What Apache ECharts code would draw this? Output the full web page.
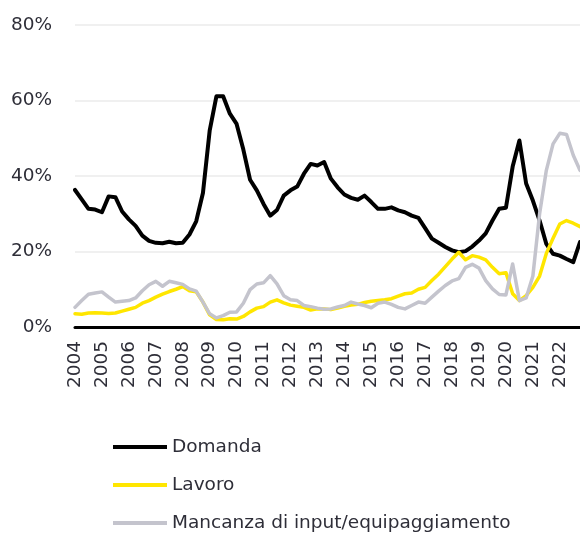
<!DOCTYPE html>
<html>
<head>
<meta charset="utf-8">
<script src="https://cdn.jsdelivr.net/npm/echarts@6/dist/echarts.min.js"></script>
<style>
html, body { margin: 0; padding: 0; background: #fff; overflow: hidden; }
#chart { width: 580px; height: 533px; }
</style>
</head>
<body>
<div id="chart"></div>
<script>
// anni mostrati sull'asse, dati trimestrali
const years = [2004, 2005, 2006, 2007, 2008, 2009, 2010, 2011, 2012, 2013,
  2014, 2015, 2016, 2017, 2018, 2019, 2020, 2021, 2022];
const quarters = ['T1', 'T2', 'T3', 'T4'];
const categories = [];
years.forEach(y => quarters.forEach(q => categories.push(y + ' ' + q)));

const seriesNames = ['Domanda', 'Lavoro', 'Mancanza di input/equipaggiamento'];

// valori in %
const domanda = [
  36.3, 33.8, 31.3, 31.1, 30.4, 34.6, 34.4, 30.6, 28.5, 26.8,
  24.2, 22.8, 22.3, 22.2, 22.6, 22.2, 22.3, 24.5, 28.0, 35.5,
  52.0, 61.1, 61.1, 56.5, 53.8, 47.0, 39.0, 36.2, 32.6, 29.5,
  31.0, 34.8, 36.2, 37.2, 40.6, 43.2, 42.8, 43.7, 39.3, 37.0,
  35.1, 34.2, 33.7, 34.8, 33.1, 31.3, 31.3, 31.7, 30.9, 30.4,
  29.5, 28.9, 26.2, 23.4, 22.3, 21.2, 20.3, 19.8, 20.1, 21.3,
  22.9, 24.8, 28.2, 31.3, 31.6, 42.5, 49.4, 38.0, 33.5, 28.2,
  22.0, 19.4, 18.9, 18.0, 17.2, 22.5
];
const lavoro = [
  3.5, 3.4, 3.7, 3.8, 3.7, 3.6, 3.7, 4.2, 4.7, 5.2,
  6.3, 7.0, 7.9, 8.7, 9.4, 10.0, 10.7, 9.6, 9.3, 6.6,
  3.2, 2.0, 1.9, 2.2, 2.1, 2.8, 4.0, 5.0, 5.4, 6.6,
  7.2, 6.4, 5.8, 5.5, 5.2, 4.5, 4.8, 4.8, 4.6, 5.0,
  5.5, 5.8, 6.0, 6.5, 6.8, 7.0, 7.2, 7.5, 8.2, 8.8,
  9.0, 10.0, 10.5, 12.3, 14.0, 16.0, 18.0, 19.8, 17.8, 18.9,
  18.5, 17.8, 15.8, 14.1, 14.4, 8.8, 7.0, 8.3, 10.5, 13.5,
  19.5, 23.5, 27.3, 28.2, 27.5, 26.6
];
const mancanza = [
  5.2, 7.0, 8.7, 9.0, 9.3, 7.9, 6.6, 6.8, 7.0, 7.7,
  9.6, 11.2, 12.1, 10.8, 12.1, 11.7, 11.3, 10.1, 9.5, 6.6,
  3.5, 2.4, 3.0, 3.9, 4.0, 6.3, 9.9, 11.4, 11.7, 13.6,
  11.4, 8.3, 7.2, 7.0, 5.7, 5.4, 5.0, 4.7, 4.8, 5.3,
  5.7, 6.6, 6.1, 5.7, 5.1, 6.3, 6.6, 6.0, 5.2, 4.8,
  5.7, 6.6, 6.3, 7.9, 9.5, 11.0, 12.2, 12.8, 15.8, 16.6,
  15.6, 12.3, 10.1, 8.6, 8.5, 16.7, 7.0, 7.7, 13.5, 30.0,
  41.5, 48.5, 51.3, 51.0, 45.5, 41.5
];

const yTicks = [0, 20, 40, 60, 80];

const font = 'DejaVu Sans';
const textColor = '#2e2e38';

const lineSeries = (name, data, color, width) => ({
  name: name,
  type: 'line',
  data: data,
  symbol: 'none',
  color: color,
  lineStyle: { color: color, width: width, cap: 'round', join: 'round' }
});

const option = {
  animation: false,
  grid: { left: 75, right: 0, top: 25, bottom: 206 },
  xAxis: {
    type: 'category',
    data: categories,
    boundaryGap: false,
    axisLine: { lineStyle: { color: '#000', width: 3 } },
    axisTick: { show: false },
    axisLabel: {
      rotate: 90,
      margin: 14,
      fontFamily: font,
      fontSize: 18.5,
      color: textColor,
      interval: (i) => i % 4 === 0,
      formatter: (v) => v.split(' ')[0]
    },
    splitLine: { show: false }
  },
  yAxis: {
    type: 'value',
    min: yTicks[0],
    max: yTicks[yTicks.length - 1],
    interval: 20,
    axisLine: { show: false },
    axisTick: { show: false },
    axisLabel: {
      margin: 23,
      fontFamily: font,
      fontSize: 18.5,
      color: textColor,
      formatter: '{value}%'
    },
    splitLine: { lineStyle: { color: '#ebebeb', width: 1.5 } }
  },
  legend: {
    orient: 'vertical',
    left: 113,
    top: 437,
    padding: 0,
    itemGap: 18,
    itemWidth: 54,
    itemHeight: 4,
    icon: 'rect',
    data: seriesNames,
    textStyle: { fontFamily: font, fontSize: 18.5, color: textColor, lineHeight: 20 }
  },
  series: [
    lineSeries(seriesNames[0], domanda, '#000000', 4),
    lineSeries(seriesNames[1], lavoro, '#ffe600', 3.5),
    lineSeries(seriesNames[2], mancanza, '#c4c4cd', 3.5)
  ]
};

const chart = echarts.init(document.getElementById('chart'));
chart.setOption(option);
</script>
</body>
</html>
